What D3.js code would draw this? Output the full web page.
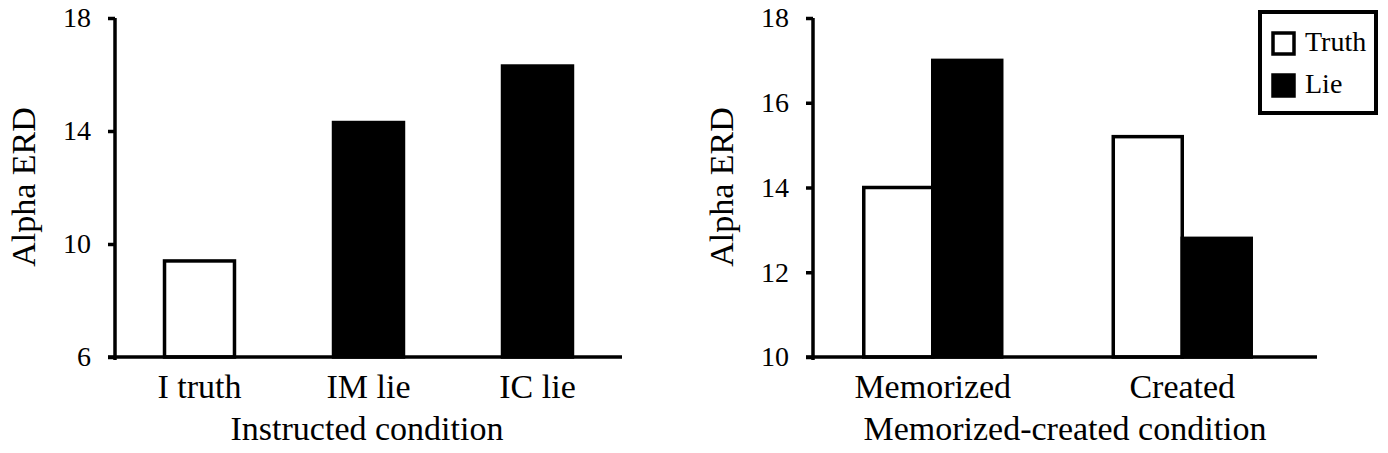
<!doctype html>
<html lang="en">
<head>
<meta charset="utf-8">
<title>Alpha ERD</title>
<script src="https://d3js.org/d3.v7.min.js"></script>
<style>
  body { margin: 0; background: #fff; }
  svg text { font-family: "Liberation Serif", "Times New Roman", serif; fill: #000; }
</style>
</head>
<body>
<svg width="1388" height="453"></svg>
<script>
// left panel: instructed condition
var instructedCats = ["I truth", "IM lie", "IC lie"];
var instructedKind = ["Truth", "Lie", "Lie"];
var instructedValues = [9.4, 14.3, 16.3];
var instructedTicks = [6, 10, 14, 18];

// right panel: memorized-created condition
var mcCats = ["Memorized", "Created"];
var mcTruth = [14.0, 15.2];
var mcLie = [17.0, 12.8];
var mcTicks = [10, 12, 14, 16, 18];

var seriesNames = ["Truth", "Lie"];
var fillOf = { Truth: "#fff", Lie: "#000" };

var svg = d3.select("svg");
var yTop = 18, yBase = 357;

function drawYAxis(g, y, ticks, x0) {
  var ax = g.append("g")
    .attr("transform", "translate(" + x0 + ",0)")
    .call(d3.axisLeft(y).tickValues(ticks).tickSize(7).tickSizeOuter(0).tickPadding(17).tickFormat(d3.format("d")));
  ax.attr("font-family", null);
  ax.select(".domain").remove();
  ax.selectAll(".tick line").attr("stroke", "#000").attr("stroke-width", 3.5);
  ax.selectAll(".tick text").attr("font-size", 28);
  g.append("line")
    .attr("x1", x0).attr("x2", x0)
    .attr("y1", y.range()[1]).attr("y2", y.range()[0] + 3)
    .attr("stroke", "#000").attr("stroke-width", 3.5);
}

function drawXAxis(g, x, x0, x1, title, titleX) {
  var ax = g.append("g")
    .attr("transform", "translate(0," + yBase + ")")
    .call(d3.axisBottom(x).tickSize(0).tickPadding(17));
  ax.attr("font-family", null);
  ax.select(".domain").remove();
  ax.selectAll(".tick text").attr("font-size", 34);
  g.append("line")
    .attr("x1", x0 - 7).attr("x2", x1)
    .attr("y1", yBase).attr("y2", yBase)
    .attr("stroke", "#000").attr("stroke-width", 3.5);
  g.append("text")
    .attr("x", titleX).attr("y", 440)
    .attr("text-anchor", "middle")
    .attr("font-size", 34)
    .text(title);
}

function yTitle(g, x, yc) {
  g.append("text")
    .attr("transform", "translate(" + x + "," + yc + ") rotate(-90)")
    .attr("text-anchor", "middle")
    .attr("font-size", 34)
    .text("Alpha ERD");
}

// ---------- left ----------
var left = svg.append("g");
var yL = d3.scaleLinear().domain([6, 18]).range([yBase, yTop]);
var xL = d3.scaleBand().domain(instructedCats).range([115, 622]).paddingInner(0.586).paddingOuter(0.293);

left.selectAll("rect.bar")
  .data(instructedValues)
  .enter()
  .append("rect")
  .attr("class", "bar")
  .attr("x", function(d, i) { return xL(instructedCats[i]); })
  .attr("width", xL.bandwidth())
  .attr("y", function(d) { return yL(d); })
  .attr("height", function(d) { return yBase - yL(d); })
  .attr("fill", function(d, i) { return fillOf[instructedKind[i]]; })
  .attr("stroke", "#000")
  .attr("stroke-width", 3.5);

drawYAxis(left, yL, instructedTicks, 115);
drawXAxis(left, xL, 115, 622, "Instructed condition", 367);
yTitle(left, 35, 187);

// ---------- right ----------
var right = svg.append("g");
var yR = d3.scaleLinear().domain([10, 18]).range([yBase, yTop]);
var xR = d3.scaleBand().domain(mcCats).range([808, 1307]).paddingInner(0.447).paddingOuter(0.2235);
var xS = d3.scaleBand().domain(seriesNames).range([0, xR.bandwidth()]);

var rows = mcCats.map(function(c, i) {
  return { cat: c, vals: [{ s: "Truth", v: mcTruth[i] }, { s: "Lie", v: mcLie[i] }] };
});

right.selectAll("g.grp")
  .data(rows)
  .enter()
  .append("g")
  .attr("class", "grp")
  .attr("transform", function(d) { return "translate(" + xR(d.cat) + ",0)"; })
  .selectAll("rect")
  .data(function(d) { return d.vals; })
  .enter()
  .append("rect")
  .attr("x", function(d) { return xS(d.s); })
  .attr("width", xS.bandwidth())
  .attr("y", function(d) { return yR(d.v); })
  .attr("height", function(d) { return yBase - yR(d.v); })
  .attr("fill", function(d) { return fillOf[d.s]; })
  .attr("stroke", "#000")
  .attr("stroke-width", 3.5);

drawYAxis(right, yR, mcTicks, 813);
drawXAxis(right, xR, 813, 1317, "Memorized-created condition", 1065);
yTitle(right, 733, 187);

// legend
var leg = svg.append("g");
leg.append("rect")
  .attr("x", 1260).attr("y", 12).attr("width", 116).attr("height", 101)
  .attr("fill", "#fff").attr("stroke", "#000").attr("stroke-width", 4);
seriesNames.forEach(function(s, i) {
  leg.append("rect")
    .attr("x", 1273).attr("y", 33 + i * 42).attr("width", 21).attr("height", 21)
    .attr("fill", fillOf[s]).attr("stroke", "#000").attr("stroke-width", 3.5);
  leg.append("text")
    .attr("x", 1305).attr("y", 51 + i * 42)
    .attr("font-size", 28)
    .text(s);
});
</script>
</body>
</html>
